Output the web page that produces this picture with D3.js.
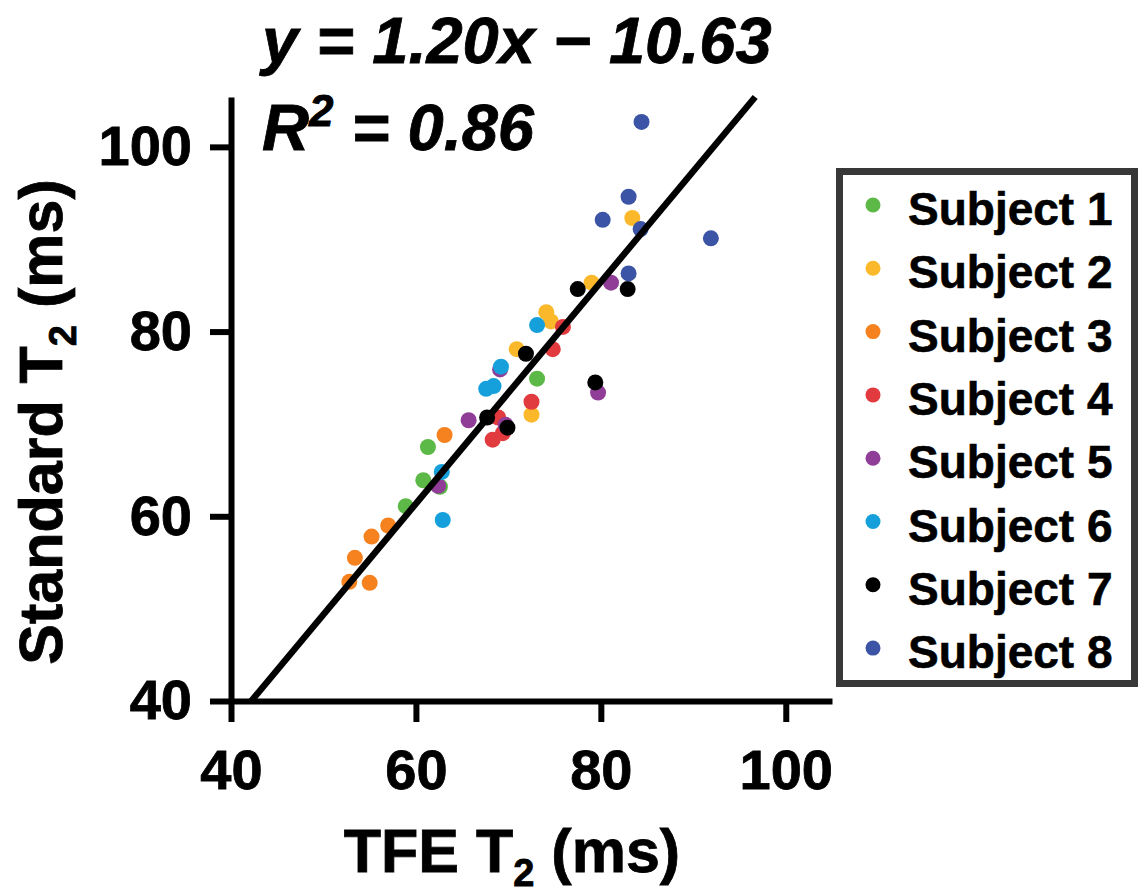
<!DOCTYPE html>
<html>
<head>
<meta charset="utf-8">
<script src="https://d3js.org/d3.v7.min.js"></script>
<style>
  body { margin: 0; background: #fff; }
  svg { display: block; font-family: "Liberation Sans", Arial, sans-serif; }
</style>
</head>
<body>
<svg width="1140" height="896"></svg>
<script>
// subject names and colours
var subjects = ["Subject 1", "Subject 2", "Subject 3", "Subject 4", "Subject 5", "Subject 6", "Subject 7", "Subject 8"];
var colors = ["#5db947", "#fbb82a", "#f5821f", "#e23b3f", "#8f3d97", "#16a0db", "#000000", "#3b54a5"];

// TFE T2 (x) and Standard T2 (y) values per subject
var tfe1 = [61.3, 60.8, 62.6, 58.9, 73.1];
var std1 = [67.5, 63.9, 63.2, 61.1, 74.9];
var tfe2 = [74.1, 74.6, 70.9, 72.5, 79.0, 83.4];
var std2 = [82.1, 81.1, 78.1, 71.0, 85.3, 92.3];
var tfe3 = [63.1, 57.0, 55.2, 53.4, 52.8, 55.0];
var std3 = [68.8, 59.0, 57.8, 55.5, 52.9, 52.8];
var tfe4 = [75.9, 74.8, 72.5, 68.9, 69.4, 68.3];
var std4 = [80.5, 78.1, 72.4, 70.7, 69.0, 68.3];
var tfe5 = [81.1, 69.1, 79.7, 65.7, 69.7, 62.4];
var std5 = [85.3, 75.9, 73.4, 70.4, 69.9, 63.3];
var tfe6 = [73.1, 69.2, 68.4, 67.6, 62.8, 62.9];
var std6 = [80.7, 76.2, 74.1, 73.8, 64.8, 59.6];
var tfe7 = [77.5, 82.9, 71.9, 79.4, 67.7, 69.9];
var std7 = [84.6, 84.6, 77.6, 74.5, 70.7, 69.6];
var tfe8 = [84.4, 83.0, 80.2, 84.3, 91.9, 83.0];
var std8 = [102.7, 94.6, 92.1, 91.1, 90.1, 86.3];

var tfeAll = [tfe1, tfe2, tfe3, tfe4, tfe5, tfe6, tfe7, tfe8];
var stdAll = [std1, std2, std3, std4, std5, std6, std7, std8];

var ticks = [40, 60, 80, 100];
var slope = 1.20, intercept = -10.63;

var svg = d3.select("svg");

var x = d3.scaleLinear().domain([40, 105]).range([231, 832]);
var y = d3.scaleLinear().domain([40, 105.4]).range([701, 97]);

// flatten to point list
var points = [];
tfeAll.forEach(function(arr, s) {
  arr.forEach(function(v, i) {
    points.push({ s: s, tfe: v, std: stdAll[s][i] });
  });
});

svg.append("g").selectAll("circle")
  .data(points).enter().append("circle")
  .attr("cx", function(d) { return x(d.tfe); })
  .attr("cy", function(d) { return y(d.std); })
  .attr("r", 8)
  .attr("fill", function(d) { return colors[d.s]; });

// regression line
var x0 = (40 - intercept) / slope;
var x1 = (105.4 - intercept) / slope;
svg.append("path")
  .datum([x0, x1])
  .attr("d", d3.line().x(function(d) { return x(d); }).y(function(d) { return y(slope * d + intercept); }))
  .attr("stroke", "#000")
  .attr("stroke-width", 6.5)
  .attr("fill", "none");

// axes
var xAxis = svg.append("g")
  .attr("transform", "translate(0,701)")
  .call(d3.axisBottom(x).tickValues(ticks).tickSize(21).tickSizeOuter(0).tickPadding(27));
var yAxis = svg.append("g")
  .attr("transform", "translate(231,0)")
  .call(d3.axisLeft(y).tickValues(ticks).tickSize(21).tickSizeOuter(0).tickPadding(18));

[xAxis, yAxis].forEach(function(g) {
  g.select(".domain").attr("stroke", "#000").attr("stroke-width", 6);
  g.selectAll(".tick line").attr("stroke", "#000").attr("stroke-width", 6);
  g.selectAll(".tick text")
    .attr("fill", "#000")
    .attr("stroke", "#000").attr("stroke-width", 0.8)
    .style("font-family", "'Liberation Sans', Arial, sans-serif")
    .style("font-weight", "bold")
    .style("font-size", "56px");
});

// axis titles
var xt = svg.append("text")
  .attr("x", 512).attr("y", 872)
  .attr("text-anchor", "middle")
  .attr("stroke", "#000").attr("stroke-width", 0.8)
  .style("font-weight", "bold").style("font-size", "61px");
xt.append("tspan").text("TFE T");
xt.append("tspan").attr("dy", 14).style("font-size", "38px").text("2");
xt.append("tspan").attr("dy", -14).text(" (ms)");

var yt = svg.append("text")
  .attr("transform", "translate(62,422) rotate(-90)")
  .attr("text-anchor", "middle")
  .attr("stroke", "#000").attr("stroke-width", 0.8)
  .style("font-weight", "bold").style("font-size", "61px");
yt.append("tspan").text("Standard T");
yt.append("tspan").attr("dy", 14).style("font-size", "38px").text("2");
yt.append("tspan").attr("dy", -14).text(" (ms)");

// equation
svg.append("text")
  .attr("x", 262).attr("y", 63)
  .attr("stroke", "#000").attr("stroke-width", 0.8)
  .style("font-weight", "bold").style("font-style", "italic").style("font-size", "65px")
  .text("y = " + slope.toFixed(2) + "x \u2212 " + Math.abs(intercept).toFixed(2));

var r2 = svg.append("text")
  .attr("x", 262).attr("y", 150)
  .attr("stroke", "#000").attr("stroke-width", 0.8)
  .style("font-weight", "bold").style("font-style", "italic").style("font-size", "65px");
r2.append("tspan").text("R");
r2.append("tspan").attr("dy", -24).style("font-size", "44px").text("2");
r2.append("tspan").attr("dy", 24).text(" = 0.86");

// legend
var legend = svg.append("g");
legend.append("rect")
  .attr("x", 839.5).attr("y", 171.5)
  .attr("width", 295).attr("height", 512)
  .attr("fill", "#fff")
  .attr("stroke", "#383838")
  .attr("stroke-width", 7);

var rows = legend.selectAll("g.row")
  .data(subjects).enter().append("g")
  .attr("class", "row")
  .attr("transform", function(d, i) { return "translate(0," + (205 + i * 63.3) + ")"; });
rows.append("circle")
  .attr("cx", 873).attr("cy", 0).attr("r", 7.5)
  .attr("fill", function(d, i) { return colors[i]; });
rows.append("text")
  .attr("x", 908).attr("y", 20)
  .attr("stroke", "#000").attr("stroke-width", 0.6)
  .style("font-weight", "bold").style("font-size", "46px")
  .text(function(d) { return d; });
</script>
</body>
</html>
